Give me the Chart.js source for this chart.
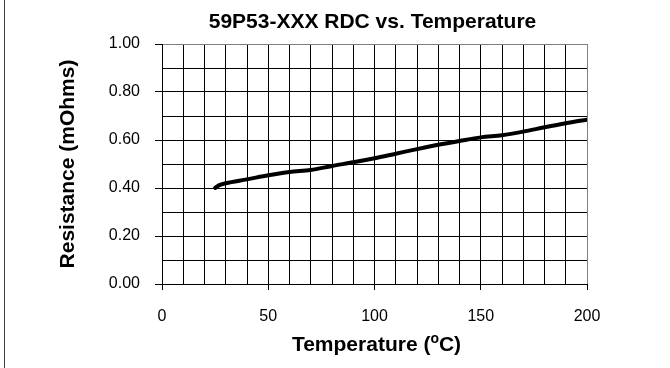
<!DOCTYPE html>
<html>
<head>
<meta charset="utf-8">
<script src="https://cdn.jsdelivr.net/npm/chart.js@4.4.1/dist/chart.umd.min.js"></script>
<style>
  html, body { margin: 0; padding: 0; background: #ffffff; }
  #wrap { width: 670px; height: 368px; position: relative; }
</style>
</head>
<body>
<div id="wrap">
  <canvas id="rdcChart" width="670" height="368"></canvas>
</div>
<script>
  // data
  const temperatures = [25, 27, 30, 40, 50, 60, 70, 80, 90, 100, 110, 120, 130, 140, 150, 160, 170, 180, 190, 200];
  const resistance = [0.400, 0.412, 0.420, 0.436, 0.453, 0.467, 0.475, 0.492, 0.507, 0.524, 0.543, 0.562, 0.580, 0.596, 0.611, 0.620, 0.635, 0.653, 0.670, 0.685];
  const xTickLabels = [0, 50, 100, 150, 200];
  const yTickLabels = ["0.00", "0.20", "0.40", "0.60", "0.80", "1.00"];

  const chartTitle = "59P53-XXX RDC vs. Temperature";
  const yTitle = "Resistance (mOhms)";
  const xTitleParts = ["Temperature (", "o", "C)"];

  const FONT = '"Liberation Sans", Arial, sans-serif';

  // titles, superscript in the x title, and the frame line on the left
  const textPlugin = {
    id: "textPlugin",
    afterDraw(chart) {
      const ctx = chart.ctx;
      const area = chart.chartArea;
      const cx = (area.left + area.right) / 2;
      ctx.save();
      ctx.fillStyle = "#000";

      ctx.font = "bold 21px " + FONT;
      ctx.textAlign = "center";
      ctx.textBaseline = "alphabetic";
      ctx.fillText(chartTitle, cx - 2, 28);

      ctx.save();
      ctx.translate(68, (area.top + area.bottom) / 2);
      ctx.rotate(-Math.PI / 2);
      ctx.textBaseline = "middle";
      ctx.fillText(yTitle, 0, 0);
      ctx.restore();

      // x title with superscript o
      const big = "bold 21px " + FONT;
      const small = "bold 14px " + FONT;
      ctx.font = big;
      const w1 = ctx.measureText(xTitleParts[0]).width;
      const w3 = ctx.measureText(xTitleParts[2]).width;
      ctx.font = small;
      const w2 = ctx.measureText(xTitleParts[1]).width;
      let x = cx + 2 - (w1 + w2 + w3) / 2;
      ctx.textAlign = "left";
      ctx.font = big;
      ctx.fillText(xTitleParts[0], x, 351);
      x += w1;
      ctx.font = small;
      ctx.fillText(xTitleParts[1], x, 343);
      x += w2;
      ctx.font = big;
      ctx.fillText(xTitleParts[2], x, 351);

      ctx.strokeStyle = "#404040";
      ctx.lineWidth = 1;
      ctx.beginPath();
      ctx.moveTo(4.5, 0);
      ctx.lineTo(4.5, 368);
      ctx.stroke();
      ctx.restore();
    },
  };

  const ctx = document.getElementById("rdcChart").getContext("2d");
  new Chart(ctx, {
    type: "line",
    data: {
      labels: temperatures,
      datasets: [
        {
          data: temperatures.map((t, i) => ({ x: t, y: resistance[i] })),
          borderColor: "#000000",
          borderWidth: 4,
          borderCapStyle: "round",
          borderJoinStyle: "round",
          pointRadius: 0,
          tension: 0.3,
          cubicInterpolationMode: "monotone",
          fill: false,
        },
      ],
    },
    options: {
      responsive: false,
      animation: false,
      layout: { padding: { top: 44, right: 83, left: 0, bottom: 0 } },
      plugins: {
        legend: { display: false },
        tooltip: { enabled: false },
        title: { display: false },
      },
      scales: {
        x: {
          type: "linear",
          min: 0,
          max: 200,
          afterFit: (scale) => { scale.height = 84; },
          ticks: {
            stepSize: 10,
            autoSkip: false,
            maxRotation: 0,
            padding: 17,
            color: "#000",
            font: { family: FONT, size: 16 },
            callback: (value) => (xTickLabels.includes(value) ? String(value) : ""),
          },
          grid: {
            color: (c) => (c.tick && c.tick.value === 200 ? "#808080" : "#000000"),
            tickColor: (c) => (c.index % 5 === 0 ? "#000000" : "rgba(0,0,0,0)"),
            tickLength: 6,
            lineWidth: 1,
          },
          border: { color: "#000000", width: 1 },
        },
        y: {
          min: 0,
          max: 1,
          afterFit: (scale) => { scale.width = 162; },
          ticks: {
            stepSize: 0.1,
            autoSkip: false,
            padding: 15,
            color: "#000",
            font: { family: FONT, size: 16 },
            callback: (value, index) => (index % 2 === 0 ? yTickLabels[index / 2] : ""),
          },
          grid: {
            color: (c) => (c.index === 10 ? "#808080" : "#000000"),
            tickColor: (c) => (c.index % 2 === 0 ? "#000000" : "rgba(0,0,0,0)"),
            tickLength: 7,
            lineWidth: 1,
          },
          border: { color: "#000000", width: 1 },
        },
      },
    },
    plugins: [textPlugin],
  });
</script>
</body>
</html>
